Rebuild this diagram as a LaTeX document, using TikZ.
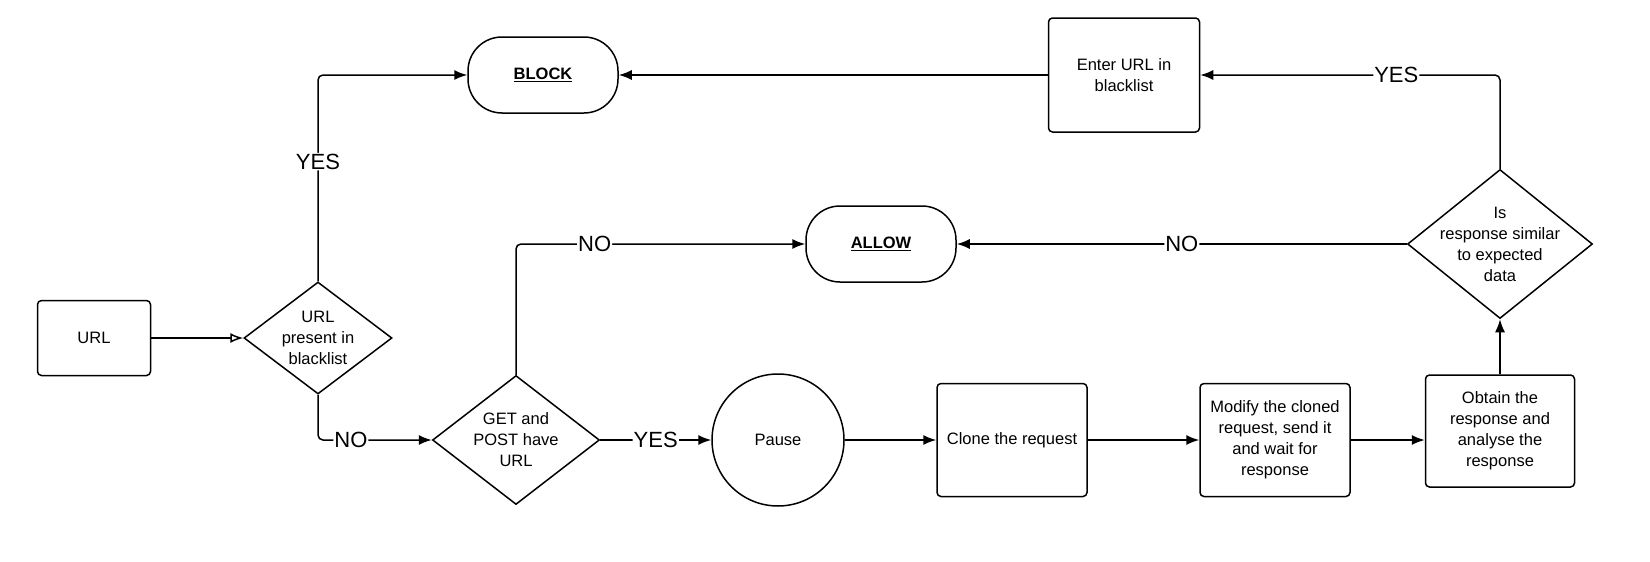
\documentclass[tikz,border=0pt]{standalone}
\usepackage{fontspec}
\setmainfont{Liberation Sans}
\usetikzlibrary{shapes.geometric,arrows.meta}

\begin{document}
\begin{tikzpicture}[%
        x=1pt, y=-1pt,
        line width=1.5pt,
        every node/.style={font=\fontsize{16.5}{21}\selectfont, align=center},
        procbox/.style={rectangle, draw=black, rounded corners=4pt, inner sep=0pt},
        termbox/.style={rectangle, draw=black, rounded corners=34pt, minimum width=150pt, minimum height=76pt, inner sep=0pt},
        decision/.style={diamond, draw=black, inner sep=0pt},
        flow/.style={-{Latex[length=13pt,width=10pt]}, rounded corners=5pt},
        lab/.style={fill=white, inner sep=1pt, font=\fontsize{22}{22}\selectfont}
        ]
        \useasboundingbox (0,0) rectangle (1650,562);

        \node[procbox, minimum width=113pt, minimum height=75pt] (url) at (94,338) {URL};
        \node[decision, aspect=1.32, minimum width=148pt, minimum height=112pt] (inlist) at (318,338) {URL\\present in\\blacklist};
        \node[termbox] (block) at (543,75) {\underline{\textbf{BLOCK}}};
        \node[procbox, minimum width=151pt, minimum height=114pt] (enter) at (1124,75) {Enter URL in\\blacklist};
        \node[termbox] (allow) at (881,244) {\underline{\textbf{ALLOW}}};
        \node[decision, aspect=1.29, minimum width=167pt, minimum height=129pt] (hasurl) at (516,440) {GET and\\POST have\\URL};
        \node[circle, draw=black, minimum size=132pt, inner sep=0pt] (pause) at (778,440) {Pause};
        \node[procbox, minimum width=150pt, minimum height=113pt] (clone) at (1012,440) {Clone the request};
        \node[procbox, minimum width=150pt, minimum height=113pt] (modify) at (1275,440) {Modify the cloned\\request, send it\\and wait for\\response};
        \node[procbox, minimum width=149pt, minimum height=112pt] (obtain) at (1500,431) {Obtain the\\response and\\analyse the\\response};
        \node[decision, aspect=1.24, minimum width=185pt, minimum height=149pt, inner sep=-7.5pt] (similar) at (1500,244) {Is\\response similar\\to expected\\data};

        % connectors
        \draw[-{Latex[open,length=13pt,width=10pt]}] (url) -- (inlist);
        \draw[flow] (inlist.north) |- node[lab, pos=0.29] {YES} (block.west);
        \draw[flow] (inlist.south) |- node[lab, pos=0.645] {NO} (hasurl.west);
        \draw[flow] (hasurl.north) |- node[lab, pos=0.636] {NO} (allow.west);
        \draw[flow] (hasurl) -- node[lab] {YES} (pause);
        \draw[flow] (pause) -- (clone);
        \draw[flow] (clone) -- (modify);
        \draw[flow] (modify) -- (modify -| obtain.west);
        \draw[flow] (obtain) -- (similar);
        \draw[flow] (similar) -- node[lab] {NO} (allow);
        \draw[flow] (similar.north) |- node[lab, pos=0.673] {YES} (enter.east);
        \draw[flow] (enter) -- (block);
    \end{tikzpicture}
\end{document}
